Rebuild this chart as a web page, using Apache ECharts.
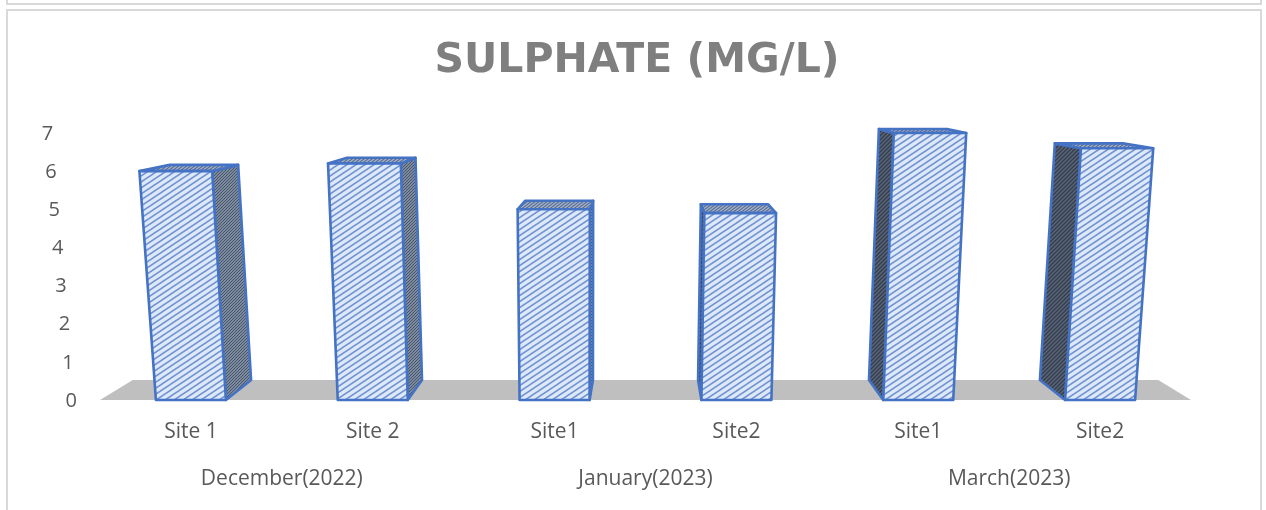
<!DOCTYPE html>
<html>
<head>
    <meta charset="utf-8">
    <title>Sulphate (mg/L)</title>
    <script src="https://cdn.jsdelivr.net/npm/echarts@6/dist/echarts.min.js"></script>
    <style>
        html, body { margin: 0; padding: 0; background: #fff; }
        #main { width: 1266px; height: 510px; }
    </style>
</head>
<body>
    <div id="main"></div>
    <script type="text/javascript">
        var siteLabels = ['Site 1', 'Site 2', 'Site1', 'Site2', 'Site1', 'Site2'];
        var monthLabels = ['December(2022)', 'January(2023)', 'March(2023)'];
        var sulphate = [6.0, 6.2, 5.0, 4.9, 7.0, 6.6];
        var yTicks = [0, 1, 2, 3, 4, 5, 6, 7];

        var myChart = echarts.init(document.getElementById('main'));
        var textColor = '#595959';
        var labelFont = 'Open Sans';
        var barLine = '#4472c4';

        // hatch fill tile, line runs corner to corner so it wraps
        function hatch(w, h, bg, fg, lw) {
            var c = document.createElement('canvas');
            c.width = w;
            c.height = h;
            var ctx = c.getContext('2d');
            ctx.fillStyle = bg;
            ctx.fillRect(0, 0, w, h);
            ctx.strokeStyle = fg;
            ctx.lineWidth = lw;
            ctx.beginPath();
            ctx.moveTo(-w, h * 2); ctx.lineTo(w * 2, -h);
            ctx.moveTo(-w, h); ctx.lineTo(w, -h);
            ctx.moveTo(0, h * 2); ctx.lineTo(w * 2, 0);
            ctx.stroke();
            return { image: c, repeat: 'repeat' };
        }
        var frontFill = hatch(9, 6, '#dde8f8', '#7092d2', 1.5);
        var midFill = hatch(3, 3, '#98a3b5', '#44546a', 1.2);
        var darkFill = hatch(4, 4, '#5b6678', '#333d4e', 1.4);
        var topFill = hatch(4, 3, '#a9b6cc', '#5a6f96', 1.2);

        var barHalf = 35;
        var floorDepth = 20;
        var depthK = 0.06;

        // floor and bars share this: the back plane pulls to the middle
        function backOf(p, h, midX) {
            return [p[0] + (midX - p[0]) * depthK, p[1] - floorDepth + h * 0.06];
        }
        function lean(x, h) {
            var vx = 580;
            return x + (x - vx) * h * (x < vx ? 0.00017 : 0.00013);
        }

        function renderFloor(params, api) {
            var g = params.coordSys;
            var b = g.y + g.height;
            var mid = g.x + g.width / 2;
            var l = [g.x, b], r = [g.x + g.width, b];
            var bl = backOf(l, 0, mid), br = backOf(r, 0, mid);
            return {
                type: 'polygon',
                shape: { points: [l, r, br, bl] },
                style: { fill: '#bfbfbf' },
                silent: true
            };
        }

        function renderBar(params, api) {
            var g = params.coordSys;
            var mid = g.x + g.width / 2;
            var base = api.coord([api.value(0), 0]);
            var tip = api.coord([api.value(0), api.value(1)]);
            var h = base[1] - tip[1];
            var x0 = base[0] - barHalf, x1 = base[0] + barHalf;
            var fbl = [x0, base[1]], fbr = [x1, base[1]];
            var ftl = [lean(x0, h), tip[1]], ftr = [lean(x1, h), tip[1]];
            var btl = backOf(ftl, h, mid), btr = backOf(ftr, h, mid);
            var bbl = backOf(fbl, 0, mid), bbr = backOf(fbr, 0, mid);
            var onRight = base[0] < mid;
            var side = onRight ? [fbr, bbr, btr, ftr] : [fbl, bbl, btl, ftl];
            function face(pts, fill) {
                return {
                    type: 'polygon',
                    shape: { points: pts },
                    style: { fill: fill, stroke: barLine, lineWidth: 2.6, lineJoin: 'round' }
                };
            }
            return {
                type: 'group',
                children: [
                    face(side, onRight ? midFill : darkFill),
                    face([ftl, ftr, btr, btl], topFill),
                    face([fbl, fbr, ftr, ftl], frontFill)
                ]
            };
        }

        // tick labels step left going up, along the slanted wall
        var tickRich = {};
        yTicks.forEach(function (t) {
            tickRich['t' + t] = {
                color: textColor,
                fontFamily: labelFont,
                fontSize: 20,
                padding: [2, t * 3.4, 0, 0]
            };
        });

        var option = {
            animation: false,
            backgroundColor: '#fff',
            title: {
                text: 'SULPHATE (MG/L)',
                left: 632,
                top: 36,
                textAlign: 'center',
                textStyle: { fontFamily: 'DejaVu Sans', fontWeight: 'bold', fontSize: 41, color: '#7f7f7f' }
            },
            grid: { left: 100, top: 133, width: 1091, height: 267 },
            xAxis: [
                {
                    type: 'category',
                    data: siteLabels,
                    axisLine: { show: false },
                    axisTick: { show: false },
                    axisLabel: { color: textColor, fontFamily: labelFont, fontSize: 21, margin: 22 }
                },
                {
                    type: 'category',
                    position: 'bottom',
                    offset: 47,
                    data: monthLabels,
                    axisLine: { show: false },
                    axisTick: { show: false },
                    axisLabel: { color: textColor, fontFamily: labelFont, fontSize: 21, margin: 22 }
                }
            ],
            yAxis: {
                type: 'value',
                min: yTicks[0],
                max: yTicks[yTicks.length - 1],
                interval: 1,
                axisLine: { show: false },
                axisTick: { show: false },
                splitLine: { show: false },
                axisLabel: {
                    margin: 23,
                    formatter: function (v) { return '{t' + v + '|' + v + '}'; },
                    rich: tickRich
                }
            },
            series: [
                {
                    type: 'custom',
                    renderItem: renderFloor,
                    coordinateSystem: 'cartesian2d',
                    data: [[0, 0]],
                    silent: true,
                    z: 1
                },
                {
                    type: 'custom',
                    renderItem: renderBar,
                    coordinateSystem: 'cartesian2d',
                    encode: { x: 0, y: 1 },
                    data: sulphate.map(function (v, i) { return [i, v]; }),
                    z: 2
                }
            ],
            graphic: [
                { type: 'rect', shape: { x: 7, y: -20, width: 1254, height: 24 }, style: { fill: 'none', stroke: '#d9d9d9', lineWidth: 2 }, silent: true },
                { type: 'rect', shape: { x: 7, y: 10, width: 1254, height: 530 }, style: { fill: 'none', stroke: '#d9d9d9', lineWidth: 2 }, silent: true }
            ]
        };
        myChart.setOption(option);
    </script>
</body>
</html>
